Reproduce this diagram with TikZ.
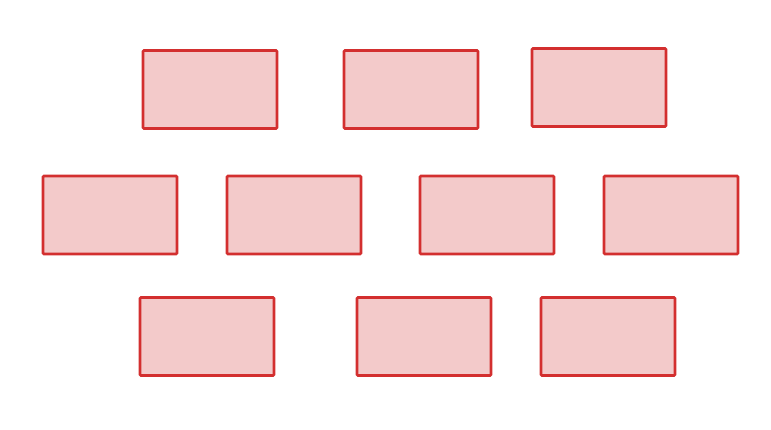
\documentclass[tikz,border=0pt]{standalone}
\definecolor{brickred}{HTML}{D32F2F}
\definecolor{brickfill}{HTML}{F3CACA}
\tikzset{
  brick/.style={draw=brickred, fill=brickfill, line width=2.6pt,
    rounded corners=1pt, minimum width=134pt, minimum height=78pt,
    inner sep=0pt, outer sep=0pt}
}
\begin{document}
\begin{tikzpicture}[x=1pt,y=-1pt]

% Cadre
\useasboundingbox (0,0) rectangle (771,429);

% Rangee du haut
\node[brick] (ra) at (210,89.5) {};
\node[brick] (rb) at (411,89.5) {};
\node[brick] (rc) at (599,87.5) {};

% Rangee du milieu
\node[brick] (ma) at (110,215) {};
\node[brick] (mb) at (294,215) {};
\node[brick] (mc) at (487,215) {};
\node[brick] (md) at (671,215) {};

% Rangee du bas
\node[brick] (ba) at (207,336.5) {};
\node[brick] (bb) at (424,336.5) {};
\node[brick] (bc) at (608,336.5) {};

\end{tikzpicture}
\end{document}
